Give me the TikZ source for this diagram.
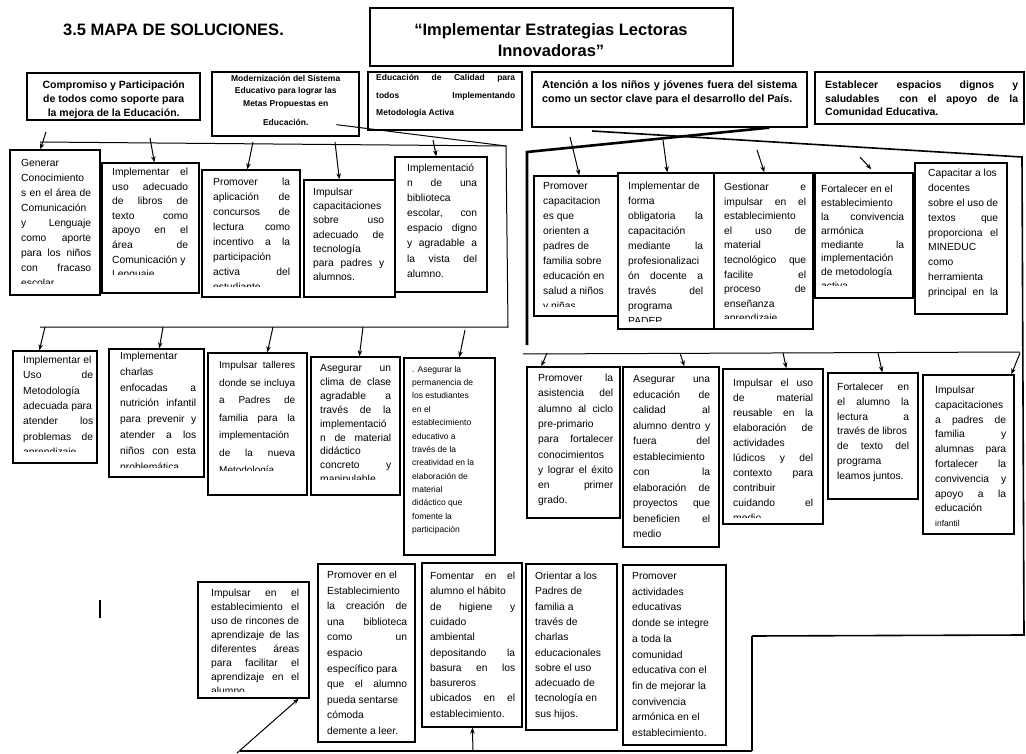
\documentclass[tikz,border=0pt]{standalone}
\usepackage{fontspec}
\setmainfont{Liberation Sans}
\usetikzlibrary{arrows.meta,fit}
\newcommand\J[1]{\makebox[\linewidth][s]{#1}}
\tikzset{
  box/.style={draw,line width=1.3pt,inner sep=0pt},
  txt/.style={inner sep=0pt,anchor=base west},
  ln/.style={line width=1pt},
  mid/.style={line width=1.6pt},
  thk/.style={line width=2.6pt},
  arr/.style={line width=1pt,-{Stealth[length=6pt,width=4.5pt]}},
}
% name x1 y1 x2 y2
\newcommand\mkbox[5]{\node[box,fit={(#2,#3) (#4,#5)}] (#1) {};}
% name x baseline width size skip clip-y content
\newcommand\TX[8]{%
  \begin{scope}
  \clip (#2-20,#3-30) rectangle (#2+#4+20,#7);
  \node[txt] (#1) at (#2,#3) {\parbox[t]{#4pt}{\fontsize{#5}{#6}\selectfont\raggedright #8}};
  \end{scope}}
\begin{document}
\begin{tikzpicture}[x=1pt,y=-1pt]
\useasboundingbox (0,0) rectangle (1026,754);
\fill[white] (0,0) rectangle (1026,754);

% heading and title
\node[txt,font=\fontsize{16.5}{19}\selectfont\bfseries] (H) at (63,36) {3.5 MAPA DE SOLUCIONES.};
\node[draw,line width=2.2pt,fit={(370,8) (733,66)},inner sep=0pt] (T) {};
\node[font=\fontsize{16.5}{21}\selectfont\bfseries,align=center,inner sep=0pt] (Tt) at (551,40) {“Implementar Estrategias Lectoras\\Innovadoras”};

% row 1
\mkbox{B1}{27}{73}{200}{120}
\TX{B1t}{30}{89}{167}{10.5}{14}{800}{\centering\bfseries Compromiso y Participación\\ de todos como soporte para\\ la mejora de la Educación.}
\mkbox{B2}{212}{72}{359}{136}
\TX{B2t}{214}{81.5}{143}{8.5}{12.5}{800}{\centering\bfseries Modernización del Sistema\\ Educativo para lograr las\\ Metas Propuestas en\\[7pt] Educación.}
\mkbox{B3}{368}{72}{522}{130}
\TX{B3t}{376}{81}{139}{8.5}{17.5}{800}{\bfseries \J{Educación de Calidad para}\\ \J{todos Implementando}\\ Metodología Activa}
\mkbox{B4}{532}{72}{807}{127}
\TX{B4t}{542}{89}{255}{10.8}{14}{800}{\bfseries \J{Atención a los niños y jóvenes fuera del sistema}\\ como un sector clave para el desarrollo del País.}
\mkbox{B5}{815}{72}{1024}{124}
\TX{B5t}{825}{89}{193}{10.5}{13.5}{800}{\bfseries \J{Establecer espacios dignos y}\\ \J{saludables \ con el apoyo de la}\\ Comunidad Educativa.}

% row 2 left
\mkbox{G1}{10}{150}{100}{295}
\TX{G1t}{21}{166.5}{70}{10.3}{15}{283.5}{Generar\\ Conocimiento\\ \J{s en el área de}\\ Comunicación\\ \J{y Lenguaje}\\ \J{como aporte}\\ \J{para los niños}\\ \J{con fracaso}\\ escolar}
\mkbox{G2}{102}{163}{199}{293}
\TX{G2t}{112}{175.5}{76}{10.3}{14.6}{275}{\J{Implementar el}\\ \J{uso adecuado}\\ \J{de libros de}\\ \J{texto como}\\ \J{apoyo en el}\\ \J{área de}\\ Comunicación y\\ Lenguaje}
\mkbox{G3}{202}{170}{300}{297}
\TX{G3t}{213}{185.5}{77}{10.3}{15}{287}{\J{Promover la}\\ \J{aplicación de}\\ \J{concursos de}\\ \J{lectura como}\\ \J{incentivo a la}\\ participación\\ \J{activa del}\\ estudiante}
\mkbox{G4}{304}{180}{395}{297}
\TX{G4t}{313}{195.5}{71}{10.3}{14.2}{800}{Impulsar\\ capacitaciones\\ \J{sobre uso}\\ \J{adecuado de}\\ tecnología\\ \J{para padres y}\\ alumnos.}
\mkbox{G5}{395}{157}{487}{292}
\TX{G5t}{407}{171.5}{70}{10.3}{15.1}{800}{Implementació\\ \J{n de una}\\ biblioteca\\ \J{escolar, con}\\ \J{espacio digno}\\ \J{y agradable a}\\ \J{la vista del}\\ alumno.}

% row 2 right
\mkbox{R1}{534}{176}{618}{316}
\TX{R1t}{543}{189.5}{66}{10.3}{15}{306}{Promover\\ capacitacion\\ es que\\ orienten a\\ padres de\\ familia sobre\\ educación en\\ salud a niños\\ y niñas}
\mkbox{R2}{618}{173}{714}{329}
\TX{R2t}{628}{189.5}{75}{10.3}{15}{321}{Implementar de\\ forma\\ \J{obligatoria la}\\ capacitación\\ \J{mediante la}\\ profesionalizaci\\ \J{ón docente a}\\ \J{través del}\\ programa\\ PADEP}
\mkbox{R3}{714}{173}{813}{329}
\TX{R3t}{724}{190.5}{82}{10.3}{14.6}{318.5}{\J{Gestionar e}\\ \J{impulsar en el}\\ establecimiento\\ \J{el uso de}\\ material\\ \J{tecnológico que}\\ \J{facilite el}\\ \J{proceso de}\\ enseñanza\\ aprendizaje}
\mkbox{R4}{815}{173}{913}{298}
\TX{R4t}{821}{192.5}{83}{10.3}{13.9}{286}{Fortalecer en el\\ establecimiento\\ \J{la convivencia}\\ armónica\\ \J{mediante la}\\ implementación\\ de metodología\\ activa}
\mkbox{R5}{915}{163}{1007}{314}
\TX{R5t}{928}{176.5}{70}{10.3}{14.9}{800}{Capacitar a los\\ docentes\\ sobre el uso de\\ \J{textos que}\\ \J{proporciona el}\\ MINEDUC\\ como\\ herramienta\\ \J{principal en la}}

% row 3 left
\mkbox{L1}{13}{351}{97}{463}
\TX{L1t}{23}{363.5}{70}{10.3}{15.3}{451}{Implementar el\\ \J{Uso de}\\ Metodología\\ adecuada para\\ \J{atender los}\\ \J{problemas de}\\ aprendizaje}
\mkbox{L2}{109}{349}{204}{477}
\TX{L2t}{120}{359.5}{76}{10.3}{15.8}{467}{Implementar\\ charlas\\ \J{enfocadas a}\\ \J{nutrición infantil}\\ \J{para prevenir y}\\ \J{atender a los}\\ \J{niños con esta}\\ problemática}
\mkbox{L3}{208}{353}{307}{495}
\TX{L3t}{219}{368.5}{76}{10}{17.5}{470}{\J{Impulsar talleres}\\ \J{donde se incluya}\\ \J{a Padres de}\\ \J{familia para la}\\ implementación\\ \J{de la nueva}\\ Metodología}
\mkbox{L4}{311}{357}{400}{495}
\TX{L4t}{320}{371.5}{71}{10.3}{13.9}{479}{\J{Asegurar un}\\ \J{clima de clase}\\ \J{agradable a}\\ \J{través de la}\\ implementació\\ \J{n de material}\\ didáctico\\ \J{concreto y}\\ manipulable}
\mkbox{L5}{404}{358}{495}{555}
\TX{L5t}{412}{372}{78}{8.5}{13.4}{800}{. Asegurar la\\ permanencia de\\ los estudiantes\\ en el\\ establecimiento\\ educativo a\\ través de la\\ creatividad en la\\ elaboración de\\ material\\ didáctico que\\ fomente la\\ participación}

% row 3 right
\mkbox{M1}{527}{367}{620}{518}
\TX{M1t}{538}{381.5}{75}{10.3}{15.3}{800}{\J{Promover la}\\ \J{asistencia del}\\ \J{alumno al ciclo}\\ pre-primario\\ \J{para fortalecer}\\ conocimientos\\ \J{y lograr el éxito}\\ \J{en primer}\\ grado.}
\mkbox{M2}{623}{367}{719}{547}
\TX{M2t}{633}{382.5}{77}{10.3}{15.5}{800}{\J{Asegurar una}\\ \J{educación de}\\ \J{calidad al}\\ \J{alumno dentro y}\\ \J{fuera del}\\ establecimiento\\ \J{con la}\\ \J{elaboración de}\\ \J{proyectos que}\\ \J{beneficien el}\\ medio}
\mkbox{M3}{723}{369}{823}{524}
\TX{M3t}{733}{386.5}{80}{10.3}{15}{517}{\J{Impulsar el uso}\\ \J{de material}\\ \J{reusable en la}\\ \J{elaboración de}\\ actividades\\ \J{lúdicos y del}\\ \J{contexto para}\\ contribuir\\ \J{cuidando el}\\ medio}
\mkbox{M4}{828}{373}{918}{499}
\TX{M4t}{837}{390.5}{72}{10.3}{14.8}{800}{\J{Fortalecer en}\\ \J{el alumno la}\\ \J{lectura a}\\ través de libros\\ \J{de texto del}\\ programa\\ leamos juntos.}
\mkbox{M5}{923}{375}{1014}{534}
\TX{M5t}{935}{393.5}{71}{10.3}{14.8}{800}{Impulsar\\ capacitaciones\\ \J{a padres de}\\ \J{familia y}\\ \J{alumnas para}\\ \J{fortalecer la}\\ \J{convivencia y}\\ \J{apoyo a la}\\ educación\\ {\fontsize{8.5}{12}\selectfont infantil}}

% row 4
\mkbox{N1}{198}{582}{309}{698}
\TX{N1t}{211}{596.5}{88}{10.3}{14}{691}{\J{Impulsar en el}\\ \J{establecimiento el}\\ \J{uso de rincones de}\\ \J{aprendizaje de las}\\ \J{diferentes áreas}\\ \J{para facilitar el}\\ \J{aprendizaje en el}\\ alumno}
\mkbox{N2}{318}{564}{415}{742}
\TX{N2t}{327}{578.5}{80}{10.3}{15.6}{800}{Promover en el\\ Establecimiento\\ \J{la creación de}\\ \J{una biblioteca}\\ \J{como un}\\ espacio\\ específico para\\ \J{que el alumno}\\ pueda sentarse\\ cómoda\\ demente a leer.}
\mkbox{N3}{422}{563}{522}{727}
\TX{N3t}{430}{579.5}{85}{10.3}{15.3}{800}{\J{Fomentar en el}\\ alumno el hábito\\ \J{de higiene y}\\ cuidado\\ ambiental\\ \J{depositando la}\\ \J{basura en los}\\ basureros\\ \J{ubicados en el}\\ establecimiento.}
\mkbox{N4}{526}{564}{617}{730}
\TX{N4t}{535}{579.5}{75}{10.3}{15.3}{800}{Orientar a los\\ Padres de\\ familia a\\ través de\\ charlas\\ educacionales\\ sobre el uso\\ adecuado de\\ tecnología en\\ sus hijos.}
\mkbox{N5}{623}{565}{726}{745}
\TX{N5t}{632}{579.5}{90}{10.3}{15.7}{800}{Promover\\ actividades\\ educativas\\ donde se integre\\ a toda la\\ comunidad\\ educativa con el\\ fin de mejorar la\\ convivencia\\ armónica en el\\ establecimiento.}

% ---- connectors: left group
\coordinate (lt1) at (40,142);
\coordinate (lt2) at (506,146);
\coordinate (lb1) at (508,327);
\coordinate (lb2) at (40,327);
\draw[ln] (lt1) -- (lt2) -- (lb1) -- (lb2);
\draw[ln] ([xshift=125pt,yshift=12pt]B2.south west) -- (lt2);
\coordinate (ga1) at (46,132);
\coordinate (ga2) at (150,138);
\coordinate (ga3) at (253,142);
\coordinate (ga4) at (335,142);
\coordinate (ga5) at (433,140);
\draw[arr] (ga1) -- ([xshift=31pt]G1.north west);
\draw[arr] (ga2) -- ([xshift=53pt]G2.north west);
\draw[arr] (ga3) -- ([xshift=46pt]G3.north west);
\draw[arr] (ga4) -- ([xshift=36pt]G4.north west);
\draw[arr] (ga5) -- ([xshift=42pt]G5.north west);
\coordinate (la1) at (45,327);
\coordinate (la2) at (163,327);
\coordinate (la3) at (273,327);
\coordinate (la4) at (363,327);
\coordinate (la5) at (465,330);
\draw[arr] (la1) -- ([xshift=27pt]L1.north west);
\draw[arr] (la2) -- ([xshift=51pt]L2.north west);
\draw[arr] (la3) -- ([xshift=60pt]L3.north west);
\draw[arr] (la4) -- ([xshift=49pt]L4.north west);
\draw[arr] (la5) -- ([xshift=56pt]L5.north west);

% ---- connectors: right group
\coordinate (rt1) at (527,152);
\coordinate (rv1) at (527,345);
\draw[thk] (rv1) -- (rt1) -- ([xshift=238pt]B4.south west);
\coordinate (rx1) at (592,131);
\coordinate (rr1) at (1022,157);
\coordinate (rr2) at (1024,635);
\coordinate (rb1) at (752,636);
\coordinate (rb2) at (752,751);
\coordinate (rb3) at (240,751);
\draw[mid] (rx1) -- (rr1) -- (rr2) -- (rb1);
\draw[mid] (rb1) -- (rb2);
\draw[thk] (rb2) -- (rb3);
\coordinate (ra1) at (570,137);
\coordinate (ra2) at (663,140);
\coordinate (ra3) at (757,150);
\coordinate (ra4) at (860,157);
\draw[arr] (ra1) -- ([xshift=46pt]R1.north west);
\draw[arr] (ra2) -- ([xshift=50pt]R2.north west);
\draw[arr] (ra3) -- ([xshift=51pt]R3.north west);
\draw[arr] (ra4) -- ([xshift=57pt,yshift=3pt]R4.north west);
\coordinate (m0) at (523,354);
\coordinate (m9) at (1020,352);
\draw[ln] (m0) -- (m9);
\coordinate (ma1) at (547,353);
\coordinate (ma2) at (680,353);
\coordinate (ma3) at (783,353);
\coordinate (ma4) at (878,353);
\coordinate (ma5) at (1020,353);
\draw[arr] (ma1) -- ([xshift=15pt]M1.north west);
\draw[arr] (ma2) -- ([xshift=62pt]M2.north west);
\draw[arr] (ma3) -- ([xshift=64pt]M3.north west);
\draw[arr] (ma4) -- ([xshift=55pt]M4.north west);
\draw[arr] (ma5) -- ([xshift=89pt]M5.north west);

% ---- bottom arrows
\coordinate (na1) at (237,753);
\coordinate (na3) at (473,751);
\draw[arr] (na1) -- ([xshift=-11pt]N1.south east);
\draw[arr] (na3) -- ([xshift=51pt]N3.south west);

% stray mark
\coordinate (s1) at (100,600);
\coordinate (s2) at (100,618);
\draw[line width=1.5pt] (s1) -- (s2);
\end{tikzpicture}
\end{document}
